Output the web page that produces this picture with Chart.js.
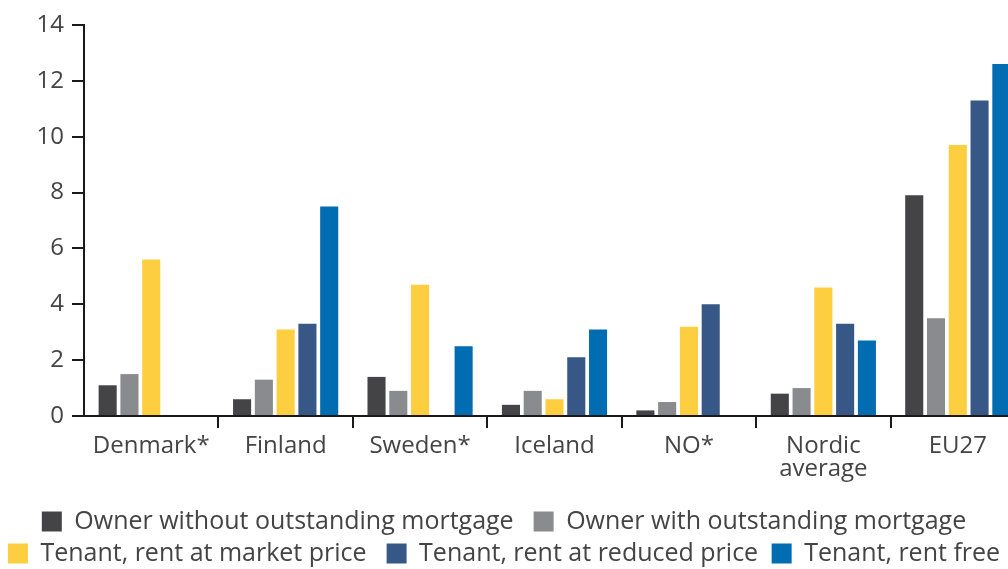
<!DOCTYPE html>
<html>
<head>
<meta charset="utf-8">
<script src="https://cdn.jsdelivr.net/npm/chart.js@4/dist/chart.umd.min.js"></script>
<style>
  html, body { margin: 0; padding: 0; background: #fff; overflow: hidden; }
  #wrap { width: 1008px; height: 569px; position: relative; overflow: hidden; }
  #myChart { position: absolute; left: 0; top: 0; }
</style>
</head>
<body>
<div id="wrap"><canvas id="myChart" width="1025" height="569"></canvas></div>
<script>
// categories and series
var categories = ['Denmark*', 'Finland', 'Sweden*', 'Iceland', 'NO*', ['Nordic', 'average'], 'EU27'];
var seriesNames = [
    'Owner without outstanding mortgage',
    'Owner with outstanding mortgage',
    'Tenant, rent at market price',
    'Tenant, rent at reduced price',
    'Tenant, rent free'
];
var ownerNoMortgage = [1.1, 0.6, 1.4, 0.4, 0.2, 0.8, 7.9];
var ownerMortgage   = [1.5, 1.3, 0.9, 0.9, 0.5, 1.0, 3.5];
var rentMarket      = [5.6, 3.1, 4.7, 0.6, 3.2, 4.6, 9.7];
var rentReduced     = [null, 3.3, null, 2.1, 4.0, 3.3, 11.3];
var rentFree        = [null, 7.5, 2.5, 3.1, null, 2.7, 12.6];
var yTicks = [0, 2, 4, 6, 8, 10, 12, 14];

var colors = ['#444446', '#8a8b8e', '#fdcf40', '#375886', '#006db3'];
var values = [ownerNoMortgage, ownerMortgage, rentMarket, rentReduced, rentFree];
// extra space after some legend entries, to widen the gaps as in the original
var legendGap = ['\u00a0\u00a0', '', '\u00a0\u00a0', '\u00a0', ''];

Chart.defaults.font.family = "'Open Sans', sans-serif";
Chart.defaults.font.size = 24;
Chart.defaults.color = '#444';

var datasets = [];
for (var i = 0; i < seriesNames.length; i++) {
    datasets.push({
        label: seriesNames[i],
        data: values[i],
        backgroundColor: colors[i],
        borderWidth: 0,
        categoryPercentage: 0.81,
        barPercentage: 0.83
    });
}

// the plot runs past the right edge of the page, the legend stays centred on the page
var legendPlace = {
    id: 'legendPlace',
    afterLayout: function (chart) {
        var lg = chart.legend;
        var h = lg.bottom - lg.top;
        lg.left = 0;
        lg.right = 1008;
        lg.width = 1008;
        lg.top = 502;
        lg.bottom = 502 + h;
    }
};

var ctx = document.getElementById('myChart');
new Chart(ctx, {
    type: 'bar',
    data: { labels: categories, datasets: datasets },
    plugins: [legendPlace],
    options: {
        responsive: false,
        animation: false,
        devicePixelRatio: 1,
        layout: { padding: { top: 25, left: 0, right: 0, bottom: 0 } },
        plugins: {
            tooltip: { enabled: false },
            legend: {
                position: 'bottom',
                labels: {
                    boxWidth: 20,
                    boxHeight: 20,
                    padding: 7,
                    color: '#444',
                    font: { size: 25 },
                    generateLabels: function (chart) {
                        var items = Chart.defaults.plugins.legend.labels.generateLabels(chart);
                        items.forEach(function (it, k) {
                            it.text = it.text + legendGap[k];
                        });
                        return items;
                    }
                }
            }
        },
        scales: {
            x: {
                afterFit: function (s) { s.height = 79; },
                border: { color: '#1a1a1a', width: 2 },
                grid: {
                    drawOnChartArea: false,
                    tickLength: 12,
                    lineWidth: 2,
                    color: function (c) { return c.index === 0 ? 'rgba(0,0,0,0)' : '#1a1a1a'; }
                },
                ticks: {
                    color: '#444',
                    padding: 7,
                    maxRotation: 0,
                    autoSkip: false,
                    font: { size: 24, lineHeight: 0.95 }
                }
            },
            y: {
                min: 0,
                max: 14,
                afterFit: function (s) { s.width = 84; },
                afterBuildTicks: function (s) {
                    s.ticks = yTicks.map(function (v) { return { value: v }; });
                },
                border: { color: '#1a1a1a', width: 2 },
                grid: {
                    drawOnChartArea: false,
                    tickLength: 12,
                    lineWidth: 2,
                    color: '#1a1a1a'
                },
                ticks: {
                    color: '#444',
                    padding: 8,
                    font: { size: 24 }
                }
            }
        }
    }
});
</script>
</body>
</html>
